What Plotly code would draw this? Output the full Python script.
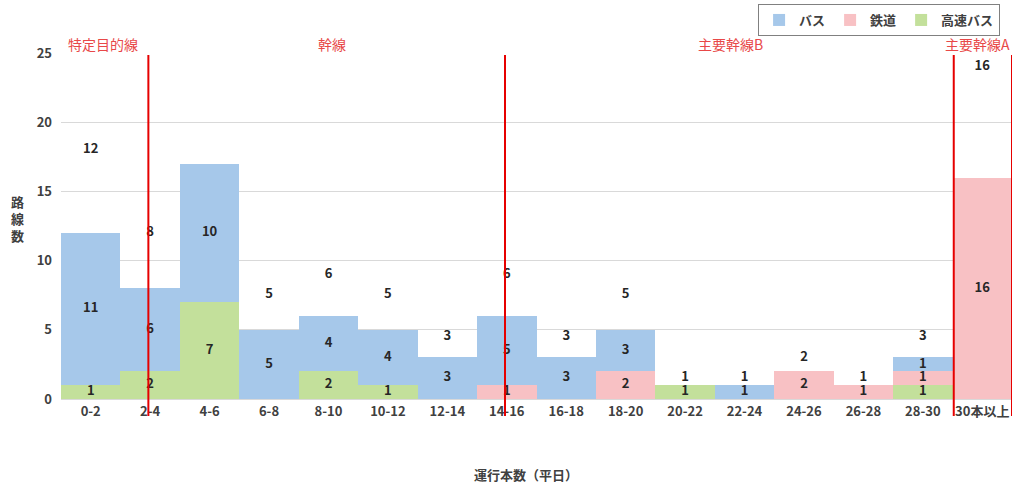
import plotly.graph_objects as go

categories = ["0-2", "2-4", "4-6", "6-8", "8-10", "10-12", "12-14", "14-16",
              "16-18", "18-20", "20-22", "22-24", "24-26", "26-28", "28-30", "30本以上"]
highway_bus = [1, 2, 7, 0, 2, 1, 0, 0, 0, 0, 1, 0, 0, 0, 1, 0]
railway =     [0, 0, 0, 0, 0, 0, 0, 1, 0, 2, 0, 0, 2, 1, 1, 16]
bus =         [11, 6, 10, 5, 4, 4, 3, 5, 3, 3, 0, 1, 0, 0, 1, 0]

zone_names = ["特定目的線", "幹線", "主要幹線B", "主要幹線A"]
zone_label_x = [0.044, 0.285, 0.704, 0.964]   # paper coords
boundary_x = [0.97, 6.97, 14.52, 15.5]        # category coords

FONT = "Noto Sans CJK JP"
BLUE, PINK, GREEN = "#a6c8ea", "#f8c1c4", "#c3e09b"
RED = "#e60000"

fig = go.Figure()
series = [("高速バス", highway_bus, GREEN), ("鉄道", railway, PINK), ("バス", bus, BLUE)]
for name, vals, col in series:
    fig.add_trace(go.Bar(x=categories, y=vals, name=name, marker=dict(color=col, line=dict(width=0)),
                         hoverinfo="x+y+name"))

# segment labels
base = [0] * len(categories)
lx, ly, lt = [], [], []
for name, vals, col in series:
    for i, v in enumerate(vals):
        if v > 0:
            lx.append(categories[i]); ly.append(base[i] + v / 2); lt.append(str(v))
        base[i] += v
totals = base
for i, t in enumerate(totals):
    if t * 1.5 <= 25:
        lx.append(categories[i]); ly.append(t * 1.5); lt.append(str(t))

fig.add_trace(go.Scatter(x=lx, y=ly, text=lt, mode="text", showlegend=False, hoverinfo="skip",
                         textfont=dict(family=FONT, size=13, color="#262626", weight="bold")))

for bx in boundary_x:
    fig.add_shape(type="line", xref="x", yref="paper", x0=bx, x1=bx, y0=-0.049, y1=0.994,
                  line=dict(color=RED, width=2))

for name, px in zip(zone_names, zone_label_x):
    fig.add_annotation(text=name, xref="paper", yref="paper", x=px, y=1.026, showarrow=False,
                       xanchor="center", yanchor="middle",
                       font=dict(family=FONT, size=14, color="#e84848"))

fig.add_annotation(text="路<br>線<br>数", xref="paper", yref="paper", x=-0.046, y=0.523,
                   showarrow=False, xanchor="center", yanchor="middle",
                   font=dict(family=FONT, size=13, color="#404040", weight="bold"))
fig.add_annotation(text="運行本数（平日）", xref="paper", yref="paper", x=0.489, y=-0.217,
                   showarrow=False, xanchor="center", yanchor="middle",
                   font=dict(family=FONT, size=13, color="#404040", weight="bold"))

fig.update_layout(
    width=1016, height=486,
    margin=dict(l=61, r=4, t=53, b=87),
    barmode="stack", bargap=0,
    paper_bgcolor="white", plot_bgcolor="white",
    font=dict(family=FONT, size=13, color="#404040"),
    legend=dict(orientation="h", x=0.733, y=1.1416, xanchor="left", yanchor="top",
                bordercolor="#808080", borderwidth=1, traceorder="reversed",
                font=dict(family=FONT, size=13, color="#404040", weight="bold"),
                itemwidth=30),
    xaxis=dict(type="category", categoryorder="array", categoryarray=categories,
               range=[-0.5, 15.5], showgrid=False, showline=True, linecolor="#d9d9d9",
               tickfont=dict(family=FONT, size=13, color="#404040", weight="bold"), ticks="",
               automargin=False),
    yaxis=dict(range=[0, 25], dtick=5, showgrid=True, gridcolor="#d9d9d9", zeroline=False,
               tickfont=dict(family=FONT, size=13, color="#404040", weight="bold"),
               ticklabelstandoff=8, automargin=False),
)

fig.write_html("out.html", config={"displayModeBar": False},
               post_script="document.body.style.margin='0';document.body.style.padding='0';")
